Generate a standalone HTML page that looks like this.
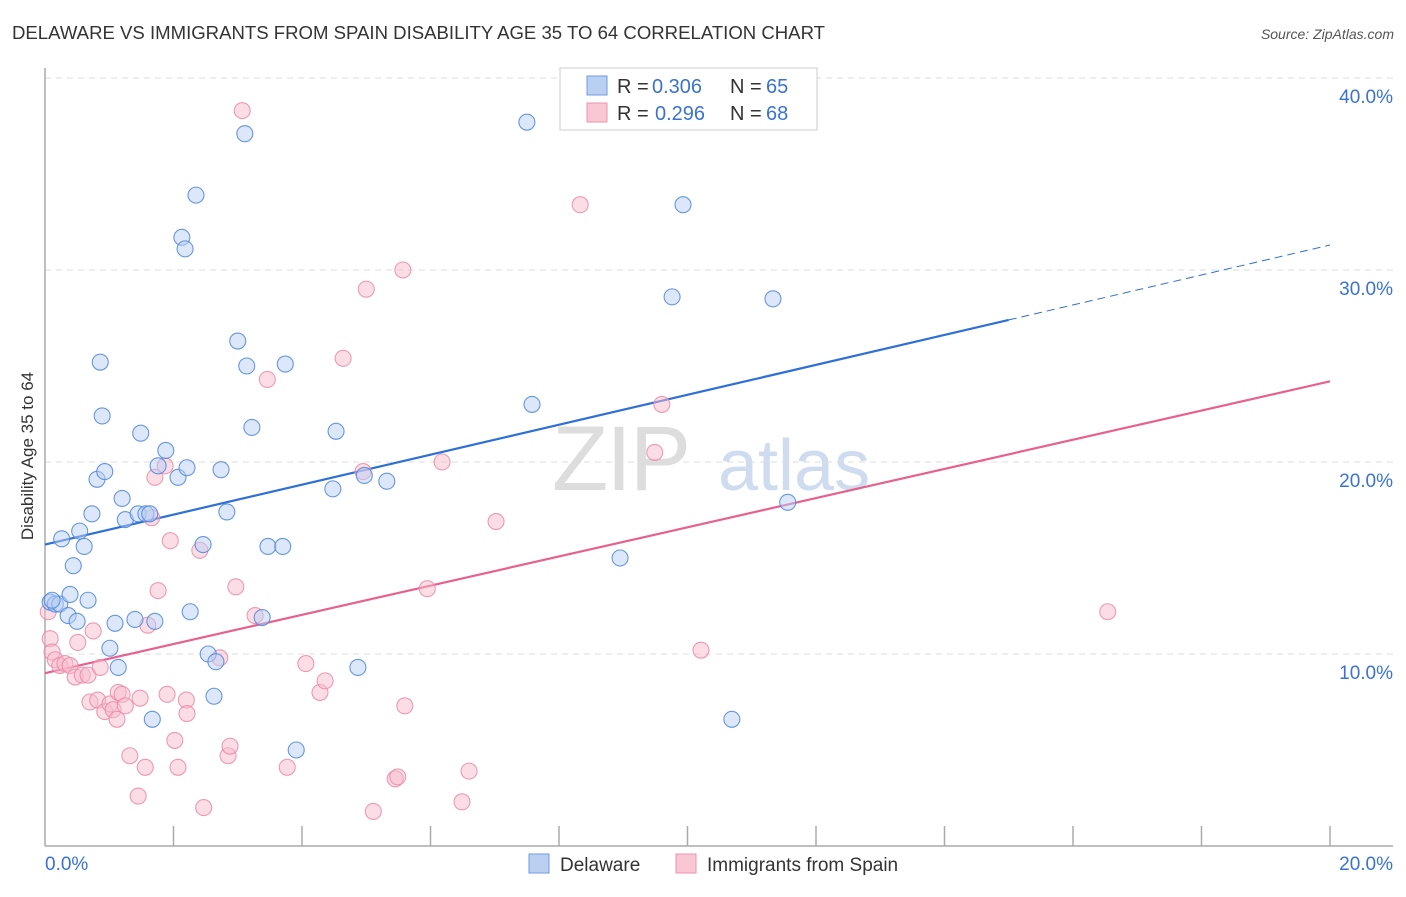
<!DOCTYPE html>
<html><head><meta charset="utf-8"><style>
body{margin:0;background:#fff;font-family:"Liberation Sans",sans-serif;}
svg text{font-family:"Liberation Sans",sans-serif;}
</style></head><body>
<svg id="chart" width="1406" height="892">
<text x="12" y="39" font-size="18" fill="#333" textLength="813" lengthAdjust="spacingAndGlyphs">DELAWARE VS IMMIGRANTS FROM SPAIN DISABILITY AGE 35 TO 64 CORRELATION CHART</text>
<text x="1394" y="39" font-size="14" fill="#555" font-style="italic" text-anchor="end">Source: ZipAtlas.com</text>
<text x="0" y="0" transform="translate(33,456) rotate(-90)" font-size="17" fill="#333" text-anchor="middle">Disability Age 35 to 64</text>
<g><text x="552" y="490" font-size="92" fill="#ddd" font-family="Liberation Serif" letter-spacing="-2">ZIP</text><text x="718" y="490" font-size="72" fill="#cfdcef">atlas</text></g>
<g id="grid"></g><g id="axes"></g><g id="lines"></g><g id="pts"></g>
<g>
<rect x="560" y="68" width="257" height="62" fill="#fff" stroke="#ccc"/>
<rect x="587" y="76" width="20" height="19" fill="#b9d0f3" stroke="#6e9be0"/>
<rect x="587" y="103" width="20" height="19" fill="#f9c6d4" stroke="#ee93ad"/>
<text y="93" font-size="20" fill="#333"><tspan x="617">R =</tspan><tspan x="652" fill="#3a72d4">0.306</tspan><tspan x="730">N =</tspan><tspan x="766" fill="#3a72d4">65</tspan></text>
<text y="120" font-size="20" fill="#333"><tspan x="617">R =</tspan><tspan x="655" fill="#3a72d4">0.296</tspan><tspan x="730">N =</tspan><tspan x="766" fill="#3a72d4">68</tspan></text>
</g>
<g>
<rect x="529" y="854" width="20" height="19" fill="#b9d0f3" stroke="#6e9be0"/>
<text x="560" y="871" font-size="19" fill="#333">Delaware</text>
<rect x="676" y="854" width="20" height="19" fill="#f9c6d4" stroke="#ee93ad"/>
<text x="707" y="871" font-size="19" fill="#333">Immigrants from Spain</text>
</g>
</svg>
<script>
const xTicks=[0,20];
const yTicks=[10,20,30,40];
const blueX=[0.08,0.16,0.23,0.11,0.26,0.36,0.39,0.44,0.5,0.54,0.61,0.67,0.73,0.81,0.86,0.89,0.93,1.01,1.09,1.14,1.2,1.25,1.4,1.45,1.49,1.57,1.63,1.67,1.71,1.76,1.88,2.07,2.13,2.18,2.21,2.26,2.35,2.46,2.54,2.63,2.66,2.74,2.83,3.0,3.11,3.14,3.22,3.38,3.47,3.7,3.74,3.91,4.48,4.53,4.87,4.97,5.32,7.5,7.58,8.95,9.76,9.93,10.69,11.33,11.56];
const blueY=[12.7,12.6,12.6,12.8,16.0,12.0,13.1,14.6,11.7,16.4,15.6,12.8,17.3,19.1,25.2,22.4,19.5,10.3,11.6,9.3,18.1,17.0,11.8,17.3,21.5,17.3,17.3,6.6,11.7,19.8,20.6,19.2,31.7,31.1,19.7,12.2,33.9,15.7,10.0,7.8,9.6,19.6,17.4,26.3,37.1,25.0,21.8,11.9,15.6,15.6,25.1,5.0,18.6,21.6,9.3,19.3,19.0,37.7,23.0,15.0,28.6,33.4,6.6,28.5,17.9];
const pinkX=[0.05,0.08,0.11,0.16,0.23,0.31,0.39,0.47,0.51,0.58,0.67,0.7,0.75,0.82,0.86,0.93,1.01,1.06,1.12,1.14,1.2,1.25,1.32,1.45,1.48,1.56,1.6,1.66,1.71,1.76,1.87,1.9,1.95,2.02,2.07,2.2,2.21,2.41,2.47,2.72,2.85,2.88,2.97,3.07,3.27,3.46,3.77,4.06,4.28,4.36,4.64,4.95,5.0,5.11,5.45,5.49,5.57,5.6,5.95,6.18,6.49,6.6,7.02,8.33,9.49,9.6,10.21,16.54];
const pinkY=[12.2,10.8,10.1,9.7,9.4,9.5,9.4,8.8,10.6,8.9,8.9,7.5,11.2,7.6,9.3,7.0,7.4,7.1,6.6,8.0,7.9,7.3,4.7,2.6,7.7,4.1,11.5,17.1,19.2,13.3,19.8,7.9,15.9,5.5,4.1,7.6,6.9,15.4,2.0,9.8,4.7,5.2,13.5,38.3,12.0,24.3,4.1,9.5,8.0,8.6,25.4,19.5,29.0,1.8,3.5,3.6,30.0,7.3,13.4,20.0,2.3,3.9,16.9,33.4,20.5,23.0,10.2,12.2];
const blueFit=[15.7,27.4];const blueFitX=[0,15];
const pinkFit=[9.0,24.2];
const NS='http://www.w3.org/2000/svg';
const X0=45,X1=1330;
function xs(v){return X0+(v-0)/20*(X1-X0);}
function ys(v){return 846-v*19.2;}
function mk(t,a,p){const e=document.createElementNS(NS,t);for(const k in a)e.setAttribute(k,a[k]);p.appendChild(e);return e;}
const grid=document.getElementById('grid'),axes=document.getElementById('axes');
yTicks.forEach(t=>{
 const l=mk('line',{x1:X0,x2:1393,y1:ys(t),y2:ys(t),stroke:'#ddd','stroke-dasharray':'6,5'},grid);
 
 
 const tx=mk('text',{x:1393,y:ys(t)+25,'font-size':19,fill:'#3a72d4','text-anchor':'end'},axes);
 tx.textContent=t.toFixed(1)+'%';
 
 
});
mk('line',{x1:X0,x2:X0,y1:68,y2:846,stroke:'#aaa','stroke-width':1.5},axes);
mk('line',{x1:X0,x2:1393,y1:846,y2:846,stroke:'#aaa','stroke-width':1.5},axes);
for(let i=1;i<=10;i++){mk('line',{x1:xs(i*2),x2:xs(i*2),y1:826,y2:846,stroke:'#aaa','stroke-width':1.5},axes);}
xTicks.forEach((t,i)=>{
 const tx=mk('text',{x:i?1393:45,y:870,'font-size':19,fill:'#3a72d4','text-anchor':i?'end':'start'},axes);
 tx.textContent=t.toFixed(1)+'%';
 
 
});
const pts=document.getElementById('pts');
function dots(X,Y,f,s,name){X.forEach((x,i)=>{
 const c=mk('circle',{cx:xs(x),cy:ys(Y[i]),r:8,fill:f,'fill-opacity':0.5,stroke:s,'stroke-width':1.1,'stroke-opacity':0.85},pts);
 
 
});}
dots(pinkX,pinkY,'#f7bccd','#ec8aa8','point-spain');
dots(blueX,blueY,'#b9d0f3','#4d86dc','point-delaware');
const lines=document.getElementById('lines');
const slope=(blueFit[1]-blueFit[0])/(blueFitX[1]-blueFitX[0]);
let l=mk('line',{x1:xs(0),y1:ys(blueFit[0]),x2:xs(blueFitX[1]),y2:ys(blueFit[1]),stroke:'#2f6fd6','stroke-width':2.2},lines);


l=mk('line',{x1:xs(blueFitX[1]),y1:ys(blueFit[1]),x2:xs(20),y2:ys(blueFit[0]+slope*20),stroke:'#2f6fd6','stroke-width':1,'stroke-dasharray':'8,5'},lines);


l=mk('line',{x1:xs(0),y1:ys(pinkFit[0]),x2:xs(20),y2:ys(pinkFit[1]),stroke:'#e8608d','stroke-width':2.2},lines);


</script>
</body></html>
